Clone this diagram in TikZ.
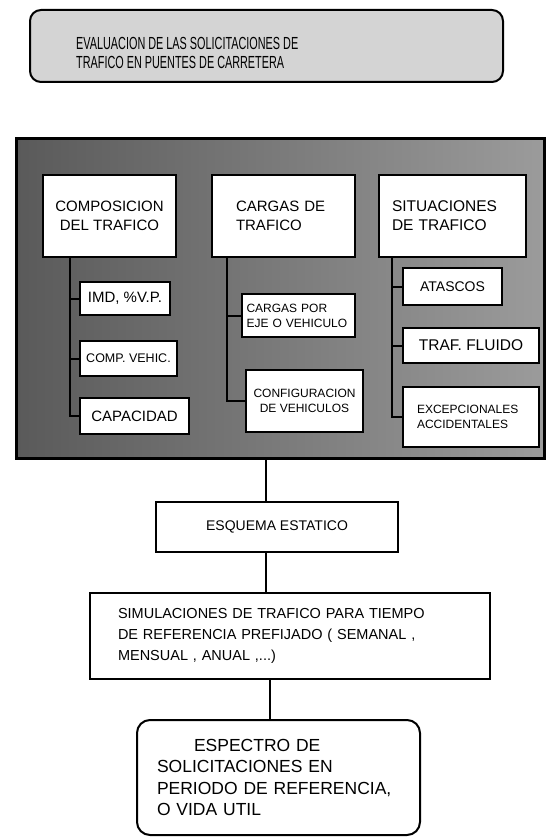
\documentclass[tikz,border=0pt]{standalone}
\usepackage{fontspec}
\setmainfont{Liberation Sans}
\newfontfamily\titlefont[FakeStretch=0.62]{Liberation Sans}
\usetikzlibrary{positioning}
\definecolor{scanlight}{RGB}{212, 212, 212}
\definecolor{scandark}{RGB}{90, 90, 90}
\definecolor{scanmid}{RGB}{155, 155, 155}

\begin{document}
\begin{tikzpicture}[
      x=1pt, y=-1pt,
      box/.style={rectangle, draw=black, line width=2pt, fill=white,
                  inner sep=0pt, align=center},
      bigtext/.style={font=\fontsize{15}{19}\selectfont},
      smalltext/.style={font=\fontsize{12}{15}\selectfont},
      lowtext/.style={font=\fontsize{14.5}{21}\selectfont},
      titlebox/.style={rectangle, rounded corners=11pt, draw=black,
                       line width=2pt, fill=scanlight, inner sep=0pt},
      panel/.style={rectangle, draw=black, line width=3pt, inner sep=0pt,
                    left color=scandark, middle color=black!66,
                    right color=scanmid},
      endbox/.style={rectangle, rounded corners=13pt, draw=black,
                     line width=2pt, fill=white, inner sep=0pt, align=left},
      link/.style={line width=2pt}
  ]
  \useasboundingbox (0,0) rectangle (546,840);

  % title
  \node[titlebox, minimum width=473pt, minimum height=72pt] (title) at (266.5,46) {};
  \node[anchor=west, align=left, inner sep=0pt,
        font=\titlefont\fontsize{17.5}{19}\selectfont] (titletxt) at (76,53)
        {EVALUACION DE LAS SOLICITACIONES DE\\TRAFICO EN PUENTES DE CARRETERA};

  % shaded panel
  \node[panel, minimum width=528pt, minimum height=320pt] (panel) at (280,298) {};

  % three groups
  \node[box, bigtext, minimum width=133pt, minimum height=82pt] (comp) at (109.5,216)
        {COMPOSICION\\DEL TRAFICO};
  \node[box, bigtext, minimum width=143pt, minimum height=82pt,
        text width=95pt, align=left] (carg) at (283.5,216) {CARGAS DE\\TRAFICO};
  \node[box, font=\fontsize{15.5}{19}\selectfont, minimum width=147pt, minimum height=82pt,
        text width=121pt, align=left] (sit) at (452.5,216) {SITUACIONES\\DE TRAFICO};

  \node[box, bigtext, minimum width=90pt, minimum height=33pt] (imd) at (125,298.5) {IMD, \%V.P.};
  \node[box, font=\fontsize{12.5}{15}\selectfont, minimum width=97pt, minimum height=35pt] (cv) at (128.5,358.5) {COMP. VEHIC.};
  \node[box, bigtext, minimum width=109pt, minimum height=36pt] (cap) at (134.5,416) {CAPACIDAD};

  \node[box, smalltext, minimum width=113pt, minimum height=43pt,
        text width=104pt, align=left] (ejes) at (298.5,315.5) {CARGAS POR\\EJE O VEHICULO};
  \node[box, smalltext, minimum width=117pt, minimum height=62pt] (conf) at (304.5,401)
        {CONFIGURACION\\DE VEHICULOS};

  \node[box, font=\fontsize{14}{17}\selectfont, minimum width=99pt, minimum height=37pt] (atas) at (452.5,286.5) {ATASCOS};
  \node[box, font=\fontsize{15.5}{17}\selectfont, minimum width=136pt, minimum height=35pt] (flu) at (471,345.5) {TRAF. FLUIDO};
  \node[box, smalltext, minimum width=136pt, minimum height=60pt,
        text width=108pt, align=left] (exc) at (471,417) {EXCEPCIONALES\\ACCIDENTALES};

  % branches inside the panel
  \coordinate (ctrunk) at (70,257);
  \coordinate (gtrunk) at (227,257);
  \coordinate (strunk) at (392,257);
  \draw[link] (ctrunk) |- (cap.west);
  \draw[link] (ctrunk |- imd.west) -- (imd.west);
  \draw[link] (ctrunk |- cv.west) -- (cv.west);
  \draw[link] (gtrunk) |- (conf.west);
  \draw[link] (gtrunk |- ejes.west) -- (ejes.west);
  \draw[link] (strunk) |- (exc.west);
  \draw[link] (strunk |- atas.west) -- (atas.west);
  \draw[link] (strunk |- flu.west) -- (flu.west);

  % lower chain
  \node[box, font=\fontsize{14}{17}\selectfont, minimum width=242pt, minimum height=50pt] (esq) at (277,527)
        {ESQUEMA ESTATICO};
  \node[box, lowtext, minimum width=400pt, minimum height=86pt,
        text width=344pt, align=left] (sim) at (290,636)
        {SIMULACIONES DE TRAFICO PARA TIEMPO\\DE REFERENCIA PREFIJADO ( SEMANAL ,\\MENSUAL , ANUAL ,...)};
  \node[endbox, font=\fontsize{17.5}{21.5}\selectfont, minimum width=283pt, minimum height=115pt,
        text width=243pt] (spec) at (278.5,777.5)
        {\hspace*{37pt}ESPECTRO DE\\SOLICITACIONES EN\\PERIODO DE REFERENCIA,\\O VIDA UTIL};

  \coordinate (drop) at (266,0);
  \coordinate (drop2) at (270,0);
  \draw[link] (panel.south -| drop) -- (esq.north -| drop);
  \draw[link] (esq.south -| drop) -- (sim.north -| drop);
  \draw[link] (sim.south -| drop2) -- (spec.north -| drop2);
\end{tikzpicture}
\end{document}
